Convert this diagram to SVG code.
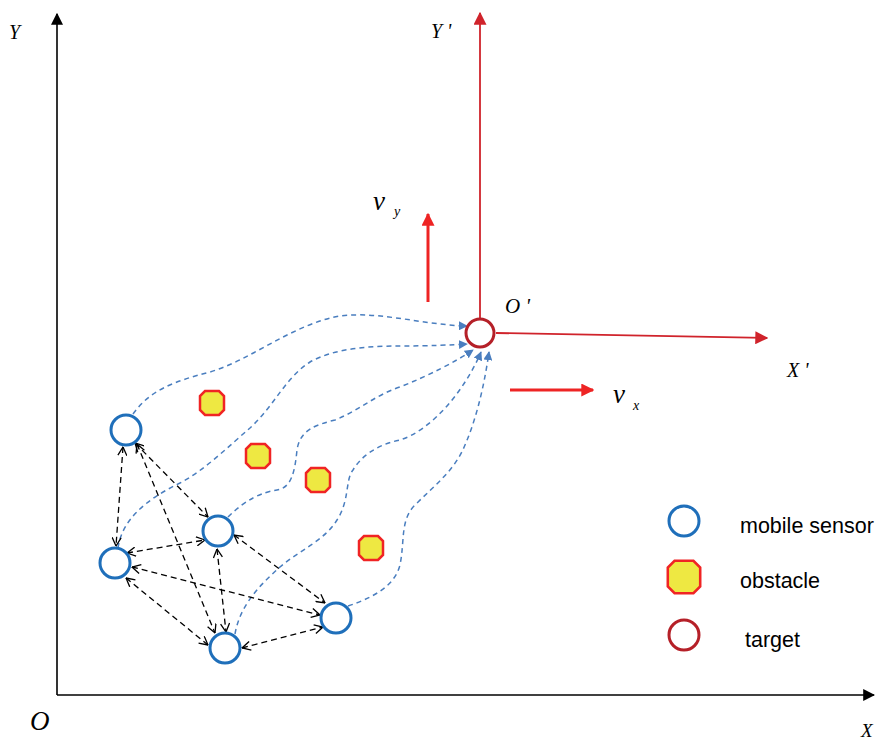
<svg xmlns="http://www.w3.org/2000/svg" width="878" height="742" viewBox="0 0 878 742">
  <style>
    .axis { stroke: #000; stroke-width: 1.6; fill: none; }
    .redaxis { stroke: #d0232b; stroke-width: 1.8; fill: none; }
    .vel { stroke: #ee2424; stroke-width: 3; fill: none; }
    .sensor { fill: #fff; stroke: #1f6fba; stroke-width: 3; }
    .target { fill: #fff; stroke: #b52028; stroke-width: 3; }
    .obst { fill: #eee842; stroke: #f02424; stroke-width: 2.5; }
    .path { stroke: #4a7ebf; stroke-width: 1.5; stroke-dasharray: 5 4; fill: none; }
    .link { stroke: #000; stroke-width: 1.3; stroke-dasharray: 6 4; fill: none; }
    .lbl { font-family: "Liberation Serif", "Times New Roman", serif; font-style: italic; fill: #000; }
    .leg { font-family: "Liberation Sans", Arial, sans-serif; font-size: 21.5px; fill: #000; }
  </style>
  <defs>
    <marker id="blk" viewBox="0 0 10 10" refX="9" refY="5" markerWidth="12" markerHeight="12" markerUnits="userSpaceOnUse" orient="auto">
      <path d="M0,0 L10,5 L0,10 Z" fill="#000"/>
    </marker>
    <marker id="red" viewBox="0 0 10 10" refX="9" refY="5" markerWidth="13" markerHeight="13" markerUnits="userSpaceOnUse" orient="auto">
      <path d="M0,0 L10,5 L0,10 Z" fill="#d0232b"/>
    </marker>
    <marker id="redv" viewBox="0 0 10 10" refX="9" refY="5" markerWidth="13" markerHeight="13" markerUnits="userSpaceOnUse" orient="auto">
      <path d="M0,0 L10,5 L0,10 Z" fill="#ee2424"/>
    </marker>
    <marker id="blue" viewBox="0 0 10 10" refX="9" refY="5" markerWidth="9" markerHeight="9" markerUnits="userSpaceOnUse" orient="auto">
      <path d="M0,0 L10,5 L0,10 Z" fill="#4a7ebf"/>
    </marker>
    <marker id="open" viewBox="0 0 10 10" refX="9.5" refY="5" markerWidth="10" markerHeight="10" markerUnits="userSpaceOnUse" orient="auto-start-reverse">
      <path d="M1,0.5 L9.5,5 L1,9.5" fill="none" stroke="#000" stroke-width="1.3"/>
    </marker>
    <path id="oct" d="M-7,-12 L7,-12 L12,-7 L12,7 L7,12 L-7,12 L-12,7 L-12,-7 Z"/>
  </defs>

  <!-- axes -->
  <g id="axes">
    <line class="axis" x1="57" y1="695" x2="57" y2="14" marker-end="url(#blk)"/>
    <line class="axis" x1="57" y1="695" x2="874" y2="695" marker-end="url(#blk)"/>
    <text class="lbl" x="9" y="39" font-size="20">Y</text>
    <text class="lbl" x="30" y="730" font-size="27">O</text>
    <text class="lbl" x="861" y="737" font-size="19">X</text>
  </g>

  <!-- moving frame -->
  <g id="frame">
    <line class="redaxis" x1="480" y1="318" x2="480" y2="13" marker-end="url(#red)"/>
    <line class="redaxis" x1="496" y1="333" x2="767" y2="338" marker-end="url(#red)"/>
    <text class="lbl" x="431" y="38" font-size="20">Y '</text>
    <text class="lbl" x="505" y="313" font-size="21">O '</text>
    <text class="lbl" x="787" y="377" font-size="20">X '</text>
    <line class="vel" x1="428" y1="302" x2="428" y2="214" marker-end="url(#redv)"/>
    <line class="vel" x1="510" y1="390" x2="593" y2="390" marker-end="url(#redv)"/>
    <text class="lbl" x="373" y="210" font-size="27">v</text>
    <text class="lbl" x="394" y="216" font-size="14">y</text>
    <text class="lbl" x="613" y="403" font-size="27">v</text>
    <text class="lbl" x="633" y="410" font-size="14">x</text>
  </g>

  <!-- connectors -->
  <g id="connectors">
    <path class="path" marker-end="url(#blue)" d="M133,414 C150,390 175,381 210,372 C250,360 285,330 330,318 C370,308 420,325 467,326"/>
    <path class="path" marker-end="url(#blue)" d="M118,548 C122,520 145,500 180,483 C205,470 230,445 250,428 C275,405 285,378 310,362 C335,348 370,346 400,346 C430,346 450,345 467,344"/>
    <path class="path" marker-end="url(#blue)" d="M228,517 C245,500 262,492 277,490 C292,488 295,470 297,450 C300,430 315,425 335,420 C360,410 375,395 400,387 C430,375 455,362 473,350"/>
    <path class="path" marker-end="url(#blue)" d="M235,634 C240,605 260,585 280,567 C300,550 325,540 337,520 C350,500 345,480 353,470 C360,458 375,445 400,440 C432,430 465,390 481,352"/>
    <path class="path" marker-end="url(#blue)" d="M348,606 C375,597 395,585 400,565 C405,540 400,520 415,505 C435,485 455,470 465,445 C478,415 485,380 489,352"/>

    <line class="link" x1="123" y1="447" x2="116" y2="546" marker-start="url(#open)" marker-end="url(#open)"/>
    <line class="link" x1="135" y1="443" x2="208" y2="517" marker-start="url(#open)" marker-end="url(#open)"/>
    <line class="link" x1="137" y1="444" x2="215" y2="633" marker-start="url(#open)" marker-end="url(#open)"/>
    <line class="link" x1="127" y1="553" x2="205" y2="540" marker-start="url(#open)" marker-end="url(#open)"/>
    <line class="link" x1="132" y1="567" x2="320" y2="615" marker-start="url(#open)" marker-end="url(#open)"/>
    <line class="link" x1="126" y1="578" x2="208" y2="645" marker-start="url(#open)" marker-end="url(#open)"/>
    <line class="link" x1="217" y1="549" x2="226" y2="632" marker-start="url(#open)" marker-end="url(#open)"/>
    <line class="link" x1="234" y1="535" x2="325" y2="603" marker-start="url(#open)" marker-end="url(#open)"/>
    <line class="link" x1="242" y1="648" x2="323" y2="627" marker-start="url(#open)" marker-end="url(#open)"/>
  </g>

  <!-- target -->
  <g id="target"><circle class="target" cx="480" cy="333" r="14"/></g>

  <!-- sensors -->
  <g id="sensor1"><circle class="sensor" cx="126" cy="430" r="15"/></g>
  <g id="sensor2"><circle class="sensor" cx="115" cy="563" r="15"/></g>
  <g id="sensor3"><circle class="sensor" cx="218" cy="531" r="15"/></g>
  <g id="sensor4"><circle class="sensor" cx="336" cy="618" r="15"/></g>
  <g id="sensor5"><circle class="sensor" cx="225" cy="648" r="15"/></g>

  <!-- obstacles -->
  <g id="obstacle1"><use href="#oct" class="obst" x="212" y="403"/></g>
  <g id="obstacle2"><use href="#oct" class="obst" x="258" y="456"/></g>
  <g id="obstacle3"><use href="#oct" class="obst" x="318" y="480"/></g>
  <g id="obstacle4"><use href="#oct" class="obst" x="371" y="548"/></g>

  <!-- legend -->
  <g id="legend">
    <circle class="sensor" cx="684" cy="521" r="15"/>
    <text class="leg" x="740" y="533">mobile sensor</text>
    <g transform="translate(684,577) scale(1.35)"><use href="#oct" class="obst" style="stroke-width:1.9"/></g>
    <text class="leg" x="740" y="588">obstacle</text>
    <circle class="target" cx="684" cy="635" r="15"/>
    <text class="leg" x="745" y="647">target</text>
  </g>
</svg>
